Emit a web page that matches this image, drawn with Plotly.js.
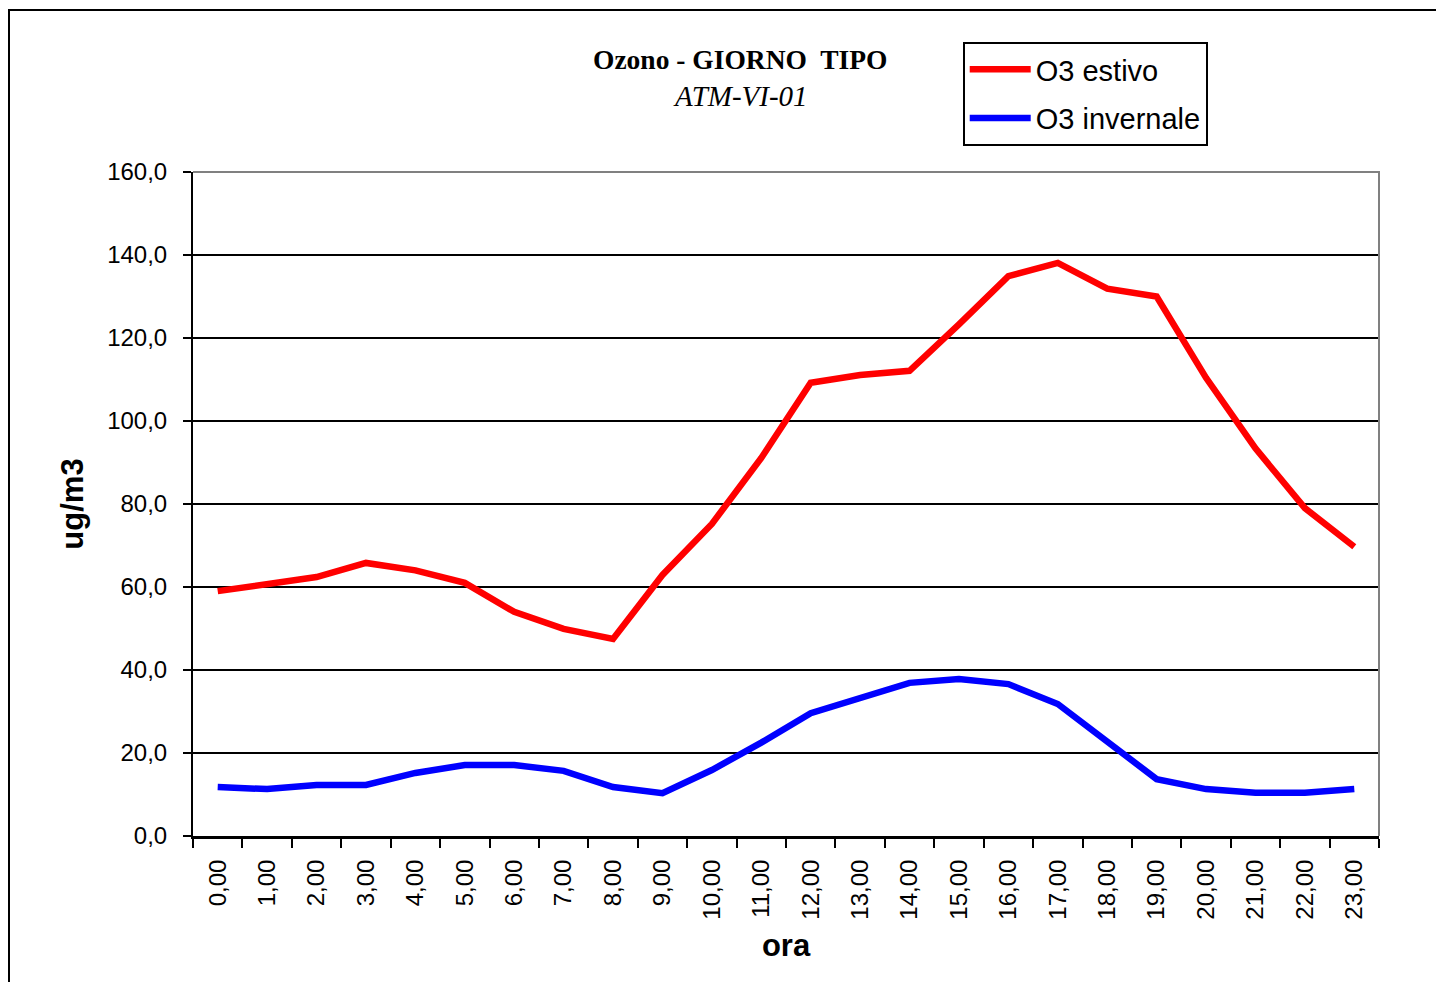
<!DOCTYPE html>
<html>
<head>
<meta charset="utf-8">
<script src="https://cdn.plot.ly/plotly-3.0.1.min.js"></script>
<style>
  html, body { margin: 0; padding: 0; background: #fff; }
  #chart { width: 1436px; height: 982px; }
  #frame { position: absolute; left: 8px; top: 9px; width: 1440px; height: 990px;
           border-left: 2px solid #000; border-top: 2px solid #000; pointer-events: none; }
</style>
</head>
<body>
<div id="chart"></div>
<div id="frame"></div>
<script>
const hours = ["0,00","1,00","2,00","3,00","4,00","5,00","6,00","7,00","8,00","9,00","10,00","11,00",
               "12,00","13,00","14,00","15,00","16,00","17,00","18,00","19,00","20,00","21,00","22,00","23,00"];
const o3Estivo = [59.0, 60.6, 62.4, 65.8, 64.0, 61.0, 54.0, 49.9, 47.5, 62.9, 75.2, 91.1,
                  109.2, 111.1, 112.1, 123.3, 134.9, 138.1, 131.9, 130.0, 110.4, 93.4, 79.0, 69.7];
const o3Invernale = [11.8, 11.3, 12.3, 12.3, 15.2, 17.1, 17.1, 15.7, 11.8, 10.3, 15.9, 22.5,
                     29.6, 33.2, 36.9, 37.8, 36.6, 31.8, 22.7, 13.7, 11.3, 10.4, 10.4, 11.3];
const yTicks = [0, 20, 40, 60, 80, 100, 120, 140, 160];

const traces = [
  { x: hours, y: o3Estivo, type: 'scatter', mode: 'lines', name: 'O3 estivo', legendgroup: 'a',
    line: { color: '#ff0000', width: 6.5 } },
  { x: hours, y: o3Invernale, type: 'scatter', mode: 'lines', name: 'O3 invernale', legendgroup: 'b',
    line: { color: '#0000ff', width: 6.5 } }
];

const layout = {
  width: 1436, height: 982,
  margin: { l: 193, r: 57, t: 172, b: 146 },
  paper_bgcolor: '#fff', plot_bgcolor: '#fff',
  separators: ',.',
  font: { family: 'Liberation Sans, Arial, sans-serif', color: '#000' },
  showlegend: true,
  legend: {
    x: 0.649, xanchor: 'left', y: 1.196, yanchor: 'top',
    bordercolor: '#000', borderwidth: 2, bgcolor: '#fff',
    font: { size: 29, family: 'Liberation Sans, Arial, sans-serif', color: '#000' },
    traceorder: 'grouped', tracegroupgap: 8,
    itemwidth: 61,
    entrywidth: 260
  },
  xaxis: {
    type: 'category',
    range: [-0.5, 23.5],
    tickson: 'boundaries',
    ticks: 'outside', ticklen: 9, tickwidth: 2, tickcolor: '#000',
    tickangle: -90,
    tickfont: { size: 24, color: '#000' },
    ticklabelstandoff: 11,
    showgrid: false,
    showline: true, linecolor: '#000', linewidth: 3,
    zeroline: false,
    title: { text: '<b>ora</b>', font: { size: 31, color: '#000' }, standoff: 16 },
    fixedrange: true
  },
  yaxis: {
    range: [0, 160],
    tickvals: yTicks,
    tickformat: '.1f',
    ticks: 'outside', ticklen: 8, tickwidth: 2, tickcolor: '#000',
    tickfont: { size: 24, color: '#000' },
    ticklabelstandoff: 11,
    showgrid: true, gridcolor: '#000', gridwidth: 1.5,
    showline: true, linecolor: '#000', linewidth: 2,
    zeroline: false,
    title: { text: '<b>ug/m3</b>', font: { size: 31, color: '#000' }, standoff: 14 },
    fixedrange: true
  },
  shapes: [
    { type: 'path', xref: 'paper', yref: 'paper', path: 'M 0,1 L 1,1 L 1,0',
      line: { color: '#808080', width: 2 }, layer: 'above' }
  ],
  annotations: [
    { text: '<b>Ozono - GIORNO  TIPO</b>', xref: 'paper', yref: 'paper',
      x: (740 - 193) / 1186, y: (836 - 60) / 664, xanchor: 'center', yanchor: 'middle',
      showarrow: false, font: { family: 'Liberation Serif, Times New Roman, serif', size: 27.5, color: '#000' } },
    { text: '<i>ATM-VI-01</i>', xref: 'paper', yref: 'paper',
      x: (740 - 193) / 1186, y: (836 - 96) / 664, xanchor: 'center', yanchor: 'middle',
      showarrow: false, font: { family: 'Liberation Serif, Times New Roman, serif', size: 29, color: '#000' } }
  ]
};

Plotly.newPlot('chart', traces, layout, { displayModeBar: false, staticPlot: true });
</script>
</body>
</html>
